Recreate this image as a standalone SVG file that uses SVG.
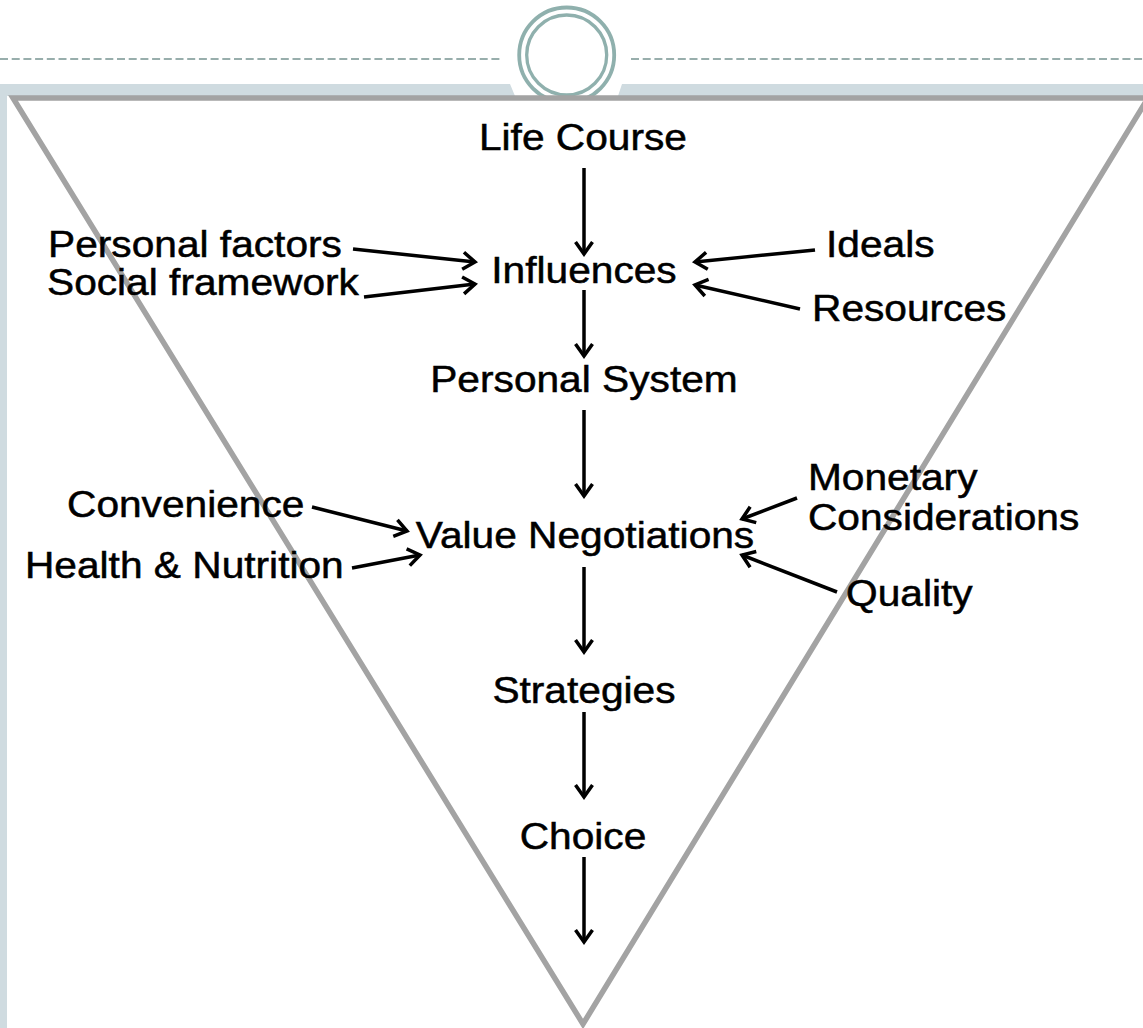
<svg xmlns="http://www.w3.org/2000/svg" width="1143" height="1028" viewBox="0 0 1143 1028">
<style>
.lbl{font-family:"Liberation Sans",Arial,sans-serif;font-size:36px;fill:#000;stroke:#000;stroke-width:0.5}
.mid{text-anchor:middle}
.arr{stroke:#000;stroke-width:3.5;fill:none;marker-end:url(#ah)}
</style>
<defs>
<marker id="ah" markerUnits="userSpaceOnUse" markerWidth="18" markerHeight="22" viewBox="0 0 18 22" refX="15" refY="11" orient="auto">
<path d="M3,2.5 L15,11 L3,19.5" fill="none" stroke="#000" stroke-width="3.5" stroke-linejoin="miter"/>
</marker>
<clipPath id="cc"><rect x="0" y="0" width="1143" height="97"/></clipPath>
</defs>
<rect width="1143" height="1028" fill="#fff"/>
<g id="frame">
<line x1="0" y1="59" x2="502" y2="59" stroke="#98aeac" stroke-width="2" stroke-dasharray="8 3.7"/>
<line x1="631" y1="59" x2="1143" y2="59" stroke="#98aeac" stroke-width="2" stroke-dasharray="8 3.7"/>
<polygon points="0,84 510,84 515,96 0,96" fill="#cfdbe0"/>
<polygon points="622,84 1143,84 1143,96 618,96" fill="#cfdbe0"/>
<rect x="0" y="84" width="7" height="944" fill="#cfdbe0"/>
<g clip-path="url(#cc)" fill="none" stroke="#8fb0ad">
<circle cx="566.7" cy="55" r="47.5" stroke-width="3.8"/>
<circle cx="566.7" cy="55" r="40" stroke-width="3.3"/>
</g>
<polygon points="13,98 1148,98 583,1024" fill="none" stroke="#a3a3a3" stroke-width="5.5" stroke-linejoin="miter"/>
</g>
<g id="connectors">
<line class="arr" x1="584" y1="168" x2="584" y2="254"/>
<line class="arr" x1="584" y1="290" x2="584" y2="356"/>
<line class="arr" x1="584" y1="410" x2="584" y2="496"/>
<line class="arr" x1="584" y1="567" x2="584" y2="652"/>
<line class="arr" x1="584" y1="712" x2="584" y2="797"/>
<line class="arr" x1="584" y1="857" x2="584" y2="942"/>
<line class="arr" x1="353" y1="249" x2="475" y2="262"/>
<line class="arr" x1="364" y1="297" x2="475" y2="284"/>
<line class="arr" x1="815" y1="250" x2="695" y2="262"/>
<line class="arr" x1="800" y1="309" x2="695" y2="285"/>
<line class="arr" x1="312" y1="507" x2="407" y2="531"/>
<line class="arr" x1="352" y1="568" x2="420" y2="555"/>
<line class="arr" x1="797" y1="498" x2="742" y2="519"/>
<line class="arr" x1="837" y1="592" x2="742" y2="555"/>
</g>
<g transform="scale(1.13 1)">
<g id="n-lifecourse"><text class="lbl mid" x="515.9" y="150">Life Course</text></g>
<g id="n-influences"><text class="lbl mid" x="516.8" y="283">Influences</text></g>
<g id="n-personalsystem"><text class="lbl mid" x="516.8" y="392">Personal System</text></g>
<g id="n-valuenegotiations"><text class="lbl mid" x="517.7" y="548">Value Negotiations</text></g>
<g id="n-strategies"><text class="lbl mid" x="516.8" y="703">Strategies</text></g>
<g id="n-choice"><text class="lbl mid" x="515.9" y="849">Choice</text></g>
<g id="n-personalfactors"><text class="lbl" x="42.5" y="257">Personal factors</text></g>
<g id="n-socialframework"><text class="lbl" x="41.6" y="295">Social framework</text></g>
<g id="n-ideals"><text class="lbl" x="731" y="257">Ideals</text></g>
<g id="n-resources"><text class="lbl" x="718.6" y="321">Resources</text></g>
<g id="n-monetary"><text class="lbl" x="715" y="490">Monetary</text><text class="lbl" x="715" y="530">Considerations</text></g>
<g id="n-convenience"><text class="lbl" x="59.3" y="517">Convenience</text></g>
<g id="n-health"><text class="lbl" x="22.1" y="578">Health &amp; Nutrition</text></g>
<g id="n-quality"><text class="lbl" x="748.7" y="606">Quality</text></g>
</g>
</svg>
